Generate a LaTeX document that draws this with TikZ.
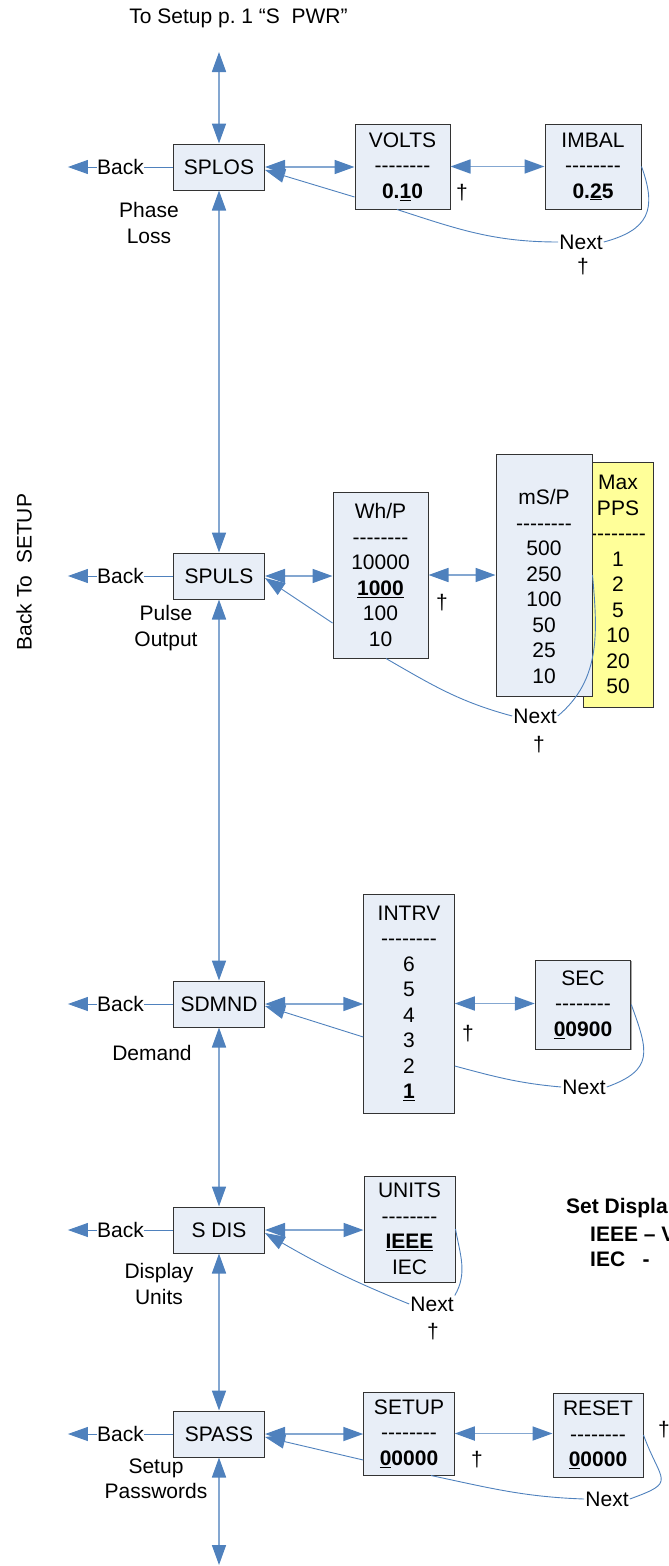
\documentclass[tikz,border=0pt]{standalone}
\usepackage{fontspec}
\setmainfont{Liberation Sans}[Ligatures=TeXOff]
\usetikzlibrary{arrows.meta,positioning,shadows}
\definecolor{linkblue}{RGB}{79,129,189}
\definecolor{boxfill}{RGB}{232,238,247}
\definecolor{ppsyellow}{RGB}{255,255,153}

\tikzset{
  every node/.append style={font=\fontsize{21}{25.5}\selectfont},
  menu/.style={draw=black!80, line width=1pt, fill=boxfill,
               drop shadow={shadow xshift=0.8pt, shadow yshift=-1.2pt, fill=black!35, opacity=1},
               minimum width=91pt, minimum height=46pt, inner sep=0pt},
  valbox/.style={draw=black!80, line width=1pt, fill=boxfill,
                 drop shadow={shadow xshift=0.8pt, shadow yshift=-1.2pt, fill=black!35, opacity=1},
                 align=center, inner sep=0pt},
  link/.style={draw=linkblue!70, line width=1.7pt},
  thinlink/.style={draw=linkblue, line width=1pt},
  loopback/.style={draw=linkblue, line width=0.9pt},
  lbl/.style={inner sep=1pt, align=center},
  note/.style={anchor=west, inner sep=0pt,
               font=\fontsize{21}{25.5}\selectfont\bfseries},
}

\begin{document}
\begin{tikzpicture}[x=1pt, y=-1pt, >={Triangle[length=20pt,width=14pt,color=linkblue]}]
  \useasboundingbox (0,0) rectangle (669,1566);

  % menu column
  \node[menu] (SPLOS) at (219,167)  {SPLOS};
  \node[menu] (SPULS) at (219,576)  {SPULS};
  \node[menu] (SDMND) at (219,1004) {SDMND};
  \node[menu] (SDIS)  at (219,1230) {S DIS};
  \node[menu] (SPASS) at (219,1434) {SPASS};

  \node[lbl] (title) at (238.5,18) {To Setup p.\ 1 “S~~PWR”};
  \node[lbl, rotate=90] (tosetup) at (24,572) {Back To~~SETUP};

  \node[lbl] (phase)   at (149,223)  {Phase\\Loss};
  \node[lbl] (pulse)   at (166,628)  {Pulse\\Output};
  \node[lbl] (demand)  at (152,1053) {Demand};
  \node[lbl] (display) at (159,1284) {Display\\Units};
  \node[lbl] (passw)   at (156,1479) {Setup\\Passwords};

  % value boxes
  \node[valbox, minimum width=95pt, minimum height=85pt] (VOLTS) at (402.5,166.5)
    {VOLTS\\--------\\\textbf{0.\underline{1}0}};
  \node[valbox, minimum width=96pt, minimum height=85pt] (IMBAL) at (593,166.5)
    {IMBAL\\--------\\\textbf{0.\underline{2}5}};
  \node[valbox, minimum width=95pt, minimum height=166pt] (WhP) at (380.5,575)
    {Wh/P\\--------\\10000\\\textbf{\underline{1000}}\\100\\10};
  \node[valbox, fill=ppsyellow, minimum width=70pt, minimum height=245pt] (PPS) at (618,584.5)
    {Max\\PPS\\--------\\1\\2\\5\\10\\20\\50};
  \node[valbox, minimum width=96pt, minimum height=242pt] (mSP) at (544,575)
    {\rule{0pt}{38pt}mS/P\\--------\\500\\250\\100\\50\\25\\10};
  \node[valbox, minimum width=90.5pt, minimum height=219pt] (INTRV) at (409,1003.5)
    {INTRV\\--------\\6\\5\\4\\3\\2\\\textbf{\underline{1}}};
  \node[valbox, minimum width=95.5pt, minimum height=89pt] (SEC) at (583,1004.5)
    {SEC\\--------\\\textbf{\underline{0}0900}};
  \node[valbox, minimum width=91pt, minimum height=106pt] (UNITS) at (409.5,1229)
    {UNITS\\--------\\\textbf{\underline{IEEE}}\\IEC};
  \node[valbox, minimum width=90.5pt, minimum height=83pt] (SETUP) at (409,1433.5)
    {SETUP\\--------\\\textbf{\underline{0}0000}};
  \node[valbox, minimum width=90pt, minimum height=84pt] (RESET) at (598,1435)
    {RESET\\--------\\\textbf{\underline{0}0000}};

  % next labels and daggers
  \node[lbl] (nx1) at (581,242)  {Next};
  \node[lbl] (nx2) at (535,716)  {Next};
  \node[lbl] (nx3) at (584,1087) {Next};
  \node[lbl] (nx4) at (432,1304) {Next};
  \node[lbl] (nx5) at (607,1499) {Next};
  \node[lbl] (dg1) at (462,193)  {†};
  \node[lbl] (dg2) at (583,267)  {†};
  \node[lbl] (dg3) at (442,603)  {†};
  \node[lbl] (dg4) at (539,745)  {†};
  \node[lbl] (dg5) at (468,1034) {†};
  \node[lbl] (dg6) at (433,1332) {†};
  \node[lbl] (dg7) at (477,1460) {†};
  \node[lbl] (dg8) at (664,1430) {†};

  \begin{scope}
    \clip (0,0) rectangle (669,1566);
    \node[note] (units1) at (566,1208) {Set Displa};
    \node[note] (units2) at (590,1234) {IEEE – V};
    \node[note] (units3) at (590,1259) {IEC~~~-};
  \end{scope}

  % back arrows
  \foreach \m in {SPLOS,SPULS,SDMND,SDIS,SPASS} {
    \node[inner sep=0pt, left=29pt of \m] (back\m) {Back};
    \coordinate[left=29pt of back\m] (tip\m);
    \draw[thinlink] (\m) -- (back\m);
    \draw[thinlink,->] (back\m) -- (tip\m);
  }

  % up and down the menu
  \coordinate (topend) at (219,52);
  \coordinate (botend) at (219,1565);
  \foreach \a/\b in {topend/SPLOS, SPLOS/SPULS, SPULS/SDMND,
                     SDMND/SDIS, SDIS/SPASS, SPASS/botend}
    \draw[link,<->] (\a) -- (\b);

  % across
  \foreach \a/\b in {SPLOS/VOLTS, VOLTS/IMBAL, SPULS/WhP, WhP/mSP,
                     SDMND/INTRV, INTRV/SEC, SDIS/UNITS, SPASS/SETUP, SETUP/RESET}
    \draw[link,<->] (\a.east) -- (\a.east -| \b.west);

  % return paths
  \draw[loopback,->] ([yshift=-30.5pt]VOLTS.west) -- ([yshift=-3pt]SPLOS.east);
  \draw[loopback,->] ([yshift=-48pt]WhP.west) -- ([yshift=-2pt]SPULS.east);
  \draw[loopback,->] ([yshift=-33.5pt]INTRV.west) -- ([yshift=-2pt]SDMND.east);
  \draw[loopback,->] ([yshift=-26.5pt]SETUP.west) -- ([yshift=-3pt]SPASS.east);
  \draw[loopback,->] (nx4.west) to[out=158,in=-30] ([yshift=-3pt]SDIS.east);

  \draw[loopback] ([xshift=-5.5pt]VOLTS.south) to[out=-18,in=180] (nx1.west);
  \draw[loopback] (nx1.east) to[out=15,in=-70,looseness=1.4] (IMBAL.east);
  \draw[loopback] ([xshift=5.5pt]WhP.south) to[out=-30,in=165] (nx2.west);
  \draw[loopback] (nx2.east) to[out=40,in=-85] (mSP.east);
  \draw[loopback] ([yshift=-62.5pt]INTRV.east) to[out=-15,in=175] (nx3.west);
  \draw[loopback] (nx3.east) to[out=20,in=-70,looseness=1.5] (SEC.east);
  \draw[loopback] (nx4.north east) to[out=60,in=-80] (UNITS.east);
  \draw[loopback] ([xshift=22pt]SETUP.south) to[out=-12,in=178] (nx5.west);
  \draw[loopback] (nx5.east) to[out=20,in=-70,looseness=2] (RESET.east);
\end{tikzpicture}
\end{document}
